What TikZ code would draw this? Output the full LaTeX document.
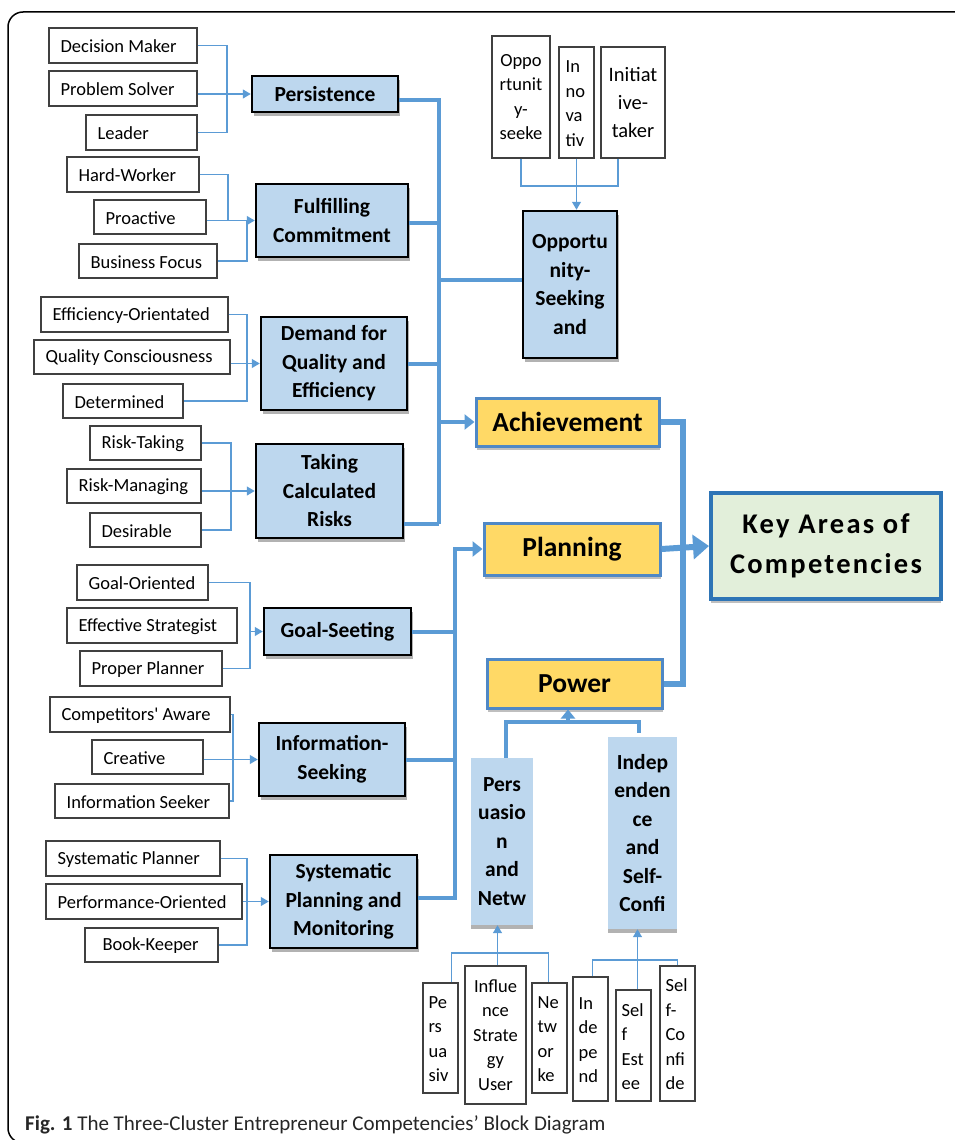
\documentclass[tikz,border=0pt]{standalone}
\usepackage{fontspec}
\setmainfont{Carlito}
\newfontfamily\cplain{Carlito}
\usetikzlibrary{arrows.meta,shadows}
\definecolor{lnk}{HTML}{5B9BD5}
\definecolor{bluefill}{HTML}{BDD7EE}
\definecolor{yel}{HTML}{FFD966}
\definecolor{yelborder}{HTML}{4F88C6}
\definecolor{keyfill}{HTML}{E2EFDA}
\definecolor{keyborder}{HTML}{2E75B6}
\definecolor{boxline}{HTML}{404040}
\newcommand\fsS{\fontsize{18.5}{24.5}\selectfont}
\newcommand\fsB{\fontsize{21.5}{28.5}\selectfont\bfseries}
\newcommand\fsY{\fontsize{27.5}{32}\selectfont\bfseries}
\tikzset{
  smallbox/.style={draw=boxline,line width=1.2pt,fill=white,inner sep=0pt},
  midbox/.style={draw=black,line width=2.5pt,fill=bluefill,inner sep=0pt,align=center,font=\fsB,
    drop shadow={shadow xshift=1.5pt,shadow yshift=-4pt,fill=black!30,opacity=1}},
  softbox/.style={fill=bluefill,inner sep=0pt,align=center,font=\fsB,
    drop shadow={shadow xshift=0pt,shadow yshift=-4pt,fill=black!30,opacity=1}},
  yelbox/.style={draw=yelborder,line width=3pt,fill=yel,inner sep=0pt,align=center,font=\fsY,
    drop shadow={shadow xshift=1pt,shadow yshift=-4pt,fill=black!25,opacity=1}},
  thinln/.style={draw=lnk,line width=1.3pt},
  thinarr/.style={thinln,-{Triangle[length=8pt,width=9pt]}},
  thickln/.style={draw=lnk,line width=4pt},
  thickarr/.style={thickln,-{Triangle[length=10pt,width=15pt]}},
  rightln/.style={draw=lnk,line width=6pt},
  bigarr/.style={draw=lnk,line width=6pt,-{Triangle[length=16pt,width=24pt]}},
}
% small box, left-aligned text: name,x1,y1,x2,y2,text,pad
\newcommand\SBx[7]{%
  \node[smallbox,minimum width={(#4-#2)*1pt},minimum height={(#5-#3)*1pt}] (#1) at ({(#2+#4)/2},{(#3+#5)/2}) {};
  \node[anchor=west,inner sep=0pt,align=left,font=\fsS] (#1t) at ([xshift=#7pt,yshift=-1pt]#1.west) {#6};}
% box with centred text
\newcommand\CBx[7]{%
  \node[#7,minimum width={(#4-#2)*1pt},minimum height={(#5-#3)*1pt}] (#1) at ({(#2+#4)/2},{(#3+#5)/2}) {#6};}
\begin{document}
\begin{tikzpicture}[x=1pt,y=-1pt]
\useasboundingbox (0,0) rectangle (955,1140);
\clip (0,0) rectangle (955,1140);
\draw[line width=1.5pt,rounded corners=15pt] (8,12) rectangle (985,1143);
% ---- left groups
\SBx{dm}{49}{28}{197}{63}{Decision Maker}{12}
\SBx{ps}{49}{71}{197}{106}{Problem Solver}{12}
\SBx{ld}{86}{115}{197}{150}{Leader}{12}
\CBx{per}{252}{76}{398}{112}{Persistence}{midbox}
\SBx{hw}{67}{157}{199}{192}{Hard-Worker}{12}
\SBx{pa}{94}{200}{206}{234}{Proactive}{12}
\SBx{bf}{79}{244}{217}{278}{Business Focus}{12}
\CBx{fc}{256}{184}{408}{257}{Fulfilling\\Commitment}{midbox}
\SBx{eo}{41}{297}{228}{332}{Efficiency-Orientated}{12}
\SBx{qc}{34}{340}{230}{374}{Quality Consciousness}{12}
\SBx{dt}{63}{384}{183}{418}{Determined}{12}
\CBx{dq}{261}{317}{407}{410}{Demand for\\Quality and\\Efficiency}{midbox}
\SBx{rt}{90}{426}{201}{460}{Risk-Taking}{12}
\SBx{rm}{67}{469}{201}{503}{Risk-Managing}{12}
\SBx{ds}{90}{513}{201}{547}{Desirable}{12}
\CBx{tc}{256}{444}{403}{538}{Taking\\Calculated\\Risks}{midbox}
\SBx{go}{77}{565}{208}{600}{Goal-Oriented}{12}
\SBx{es}{67}{608}{237}{643}{Effective Strategist}{12}
\SBx{pp}{80}{651}{222}{686}{Proper Planner}{12}
\CBx{gs}{264}{608}{411}{655}{Goal-Seeting}{midbox}
\SBx{ca}{50}{697}{230}{732}{{\cplain Competitors' Aware}}{12}
\SBx{cr}{92}{740}{203}{774}{Creative}{12}
\SBx{is}{55}{784}{229}{818}{Information Seeker}{12}
\CBx{isk}{259}{723}{405}{796}{Information-\\Seeking}{midbox}
\SBx{spl}{46}{841}{220}{876}{Systematic Planner}{12}
\SBx{po}{46}{884}{242}{919}{Performance-Oriented}{12}
\SBx{bk}{85}{928}{218}{962}{Book-Keeper}{18}
\CBx{spm}{270}{855}{417}{948}{Systematic\\Planning and\\Monitoring}{midbox}
% ---- opportunity group
\CBx{os}{492}{36}{550}{158}{Oppo\\rtunit\\y-\\seeke}{smallbox,align=center,font=\fsS}
\SBx{inv}{559}{47}{594}{158}{In\\no\\va\\tiv}{7}
\CBx{it}{601}{47}{665}{158}{Initiat\\ive-\\taker}{smallbox,align=center,font=\fontsize{20.5}{28}\selectfont}
\CBx{op}{523}{211}{617}{358}{Opportu\\nity-\\Seeking\\and}{midbox}
% ---- clusters
\CBx{ach}{476}{398}{659}{446}{Achievement}{yelbox}
\CBx{pla}{484}{523}{660}{575}{Planning}{yelbox}
\CBx{pow}{487}{659}{662}{708}{Power}{yelbox}
\CBx{key}{711}{493}{941}{599}{Key Areas of\\Competencies}{draw=keyborder,line width=4pt,fill=keyfill,inner sep=0pt,align=center,
  font=\fontsize{28.5}{40}\selectfont\bfseries\addfontfeature{LetterSpace=8},
  drop shadow={shadow xshift=0pt,shadow yshift=-4pt,fill=black!25,opacity=1}}
% ---- power subtree
\CBx{pn}{471}{758}{533}{925}{Pers\\uasio\\n\\and\\Netw}{softbox}
\CBx{ind}{608}{737}{677}{929}{Indep\\enden\\ce\\and\\Self-\\Confi}{softbox}
\SBx{pe}{423}{983}{458}{1093}{Pe\\rs\\ua\\siv}{6}
\CBx{inf}{465}{966}{526}{1104}{Influe\\nce\\Strate\\gy\\User}{smallbox,align=center,font=\fsS}
\SBx{nw}{532}{983}{567}{1093}{Ne\\tw\\or\\ke}{6}
\SBx{ip}{573}{977}{608}{1101}{In\\de\\pe\\nd}{6}
\SBx{se}{616}{990}{651}{1101}{Sel\\f\\Est\\ee}{6}
\SBx{sc}{660}{966}{695}{1101}{Sel\\f-\\Co\\nfi\\de}{6}
% ---- caption
\node[anchor=base west,inner sep=0pt,text=black!85,font=\fontsize{21}{24}\selectfont] (cap) at (25,1130)
  {\textbf{Fig. 1} The Three-Cluster Entrepreneur Competencies’ Block Diagram};
% ---- thin connectors, left groups
\coordinate (v1) at (227,0);
\draw[thinln] (dm.east) -| (v1 |- ld.east) -- (ld.east);
\draw[thinarr] (ps.east |- per.west) -- (per.west);
\coordinate (v2) at (228,0); \coordinate (v2b) at (247,0);
\draw[thinln] (hw.east) -| (v2 |- fc.west);
\draw[thinln] (bf.east) -| (v2b |- fc.west);
\draw[thinarr] (pa.east |- fc.west) -- (fc.west);
\coordinate (v3) at (247,0);
\draw[thinln] (eo.east) -| (v3 |- dt.east) -- (dt.east);
\draw[thinarr] (qc.east |- dq.west) -- (dq.west);
\coordinate (v4) at (231,0);
\draw[thinln] (rt.east) -| (v4 |- ds.east) -- (ds.east);
\draw[thinarr] (rm.east |- tc.west) -- (tc.west);
\coordinate (v5) at (250,0);
\draw[thinln] (go.east) -| (v5 |- pp.east) -- (pp.east);
\draw[thinarr] (v5 |- gs.west) -- (gs.west);
\coordinate (v6) at (233,0);
\draw[thinln] (ca.east) -| (v6 |- is.east) -- (is.east);
\draw[thinarr] (cr.east |- isk.west) -- (isk.west);
\coordinate (v7) at (247,0);
\draw[thinln] (spl.east) -| (v7 |- bk.east) -- (bk.east);
\draw[thinarr] (po.east |- spm.west) -- (spm.west);
% ---- opportunity connectors
\coordinate (oy) at (0,186);
\draw[thinln] (os.south) |- (inv.south |- oy);
\draw[thinln] ([xshift=-15pt]it.south) |- (inv.south |- oy);
\draw[thinarr] (inv.south) -- (inv.south |- op.north);
% ---- trunk A (achievement)
\coordinate (tA) at (439,524);
\draw[thickln] ([yshift=-6pt]per.east) -| (tA);
\draw[thickln] ([yshift=-2pt]fc.east) -- ([yshift=-2pt]fc.east -| tA);
\draw[thickln] (dq.east) -- (dq.east -| tA);
\draw[thickln] (tc.east |- tA) -- (tA);
\draw[thickln] ([yshift=5pt]op.west) -- ([yshift=5pt]op.west -| tA);
\draw[thickarr] (tA |- ach.west) -- (ach.west);
% ---- trunk B (planning)
\coordinate (tB) at (455,898);
\draw[thickarr] (spm.east |- tB) -- (tB) -- (tB |- pla.west) -- (pla.west);
\draw[thickln] (gs.east) -- (gs.east -| tB);
\draw[thickln] (isk.east) -- (isk.east -| tB);
% ---- right trunk
\coordinate (tC) at (683,0);
\draw[rightln] (ach.east) -- (ach.east -| tC) -- (pow.east -| tC) -- (pow.east);
\draw[bigarr] (pla.east) -- (key.west);
% ---- power subtree
\coordinate (pj) at (568,722);
\coordinate (py1) at (0,953);
\coordinate (py2) at (0,960);
\draw[thickln] ([xshift=4pt]pn.north) -- ([xshift=4pt]pn.north |- pj) -- ([xshift=-4pt]ind.north |- pj) -- ([xshift=-4pt,yshift=4pt]ind.north);
\draw[thickln,-{Triangle[length=9pt,width=14pt]}] (pj) -- (pj |- pow.south);
\draw[thinln] ([xshift=11pt]pe.north) -- ([xshift=11pt]pe.north |- py1) -| ([xshift=-1pt]nw.north);
\draw[thinarr] ([xshift=2pt]inf.north) -- ([xshift=2pt]inf.north |- pn.south);
\draw[thinln] ([xshift=2pt]ip.north) -- ([xshift=2pt]ip.north |- py2) -| (sc.north);
\draw[thinarr] ([xshift=4pt]se.north) -- ([xshift=4pt]se.north |- ind.south);
\end{tikzpicture}
\end{document}
